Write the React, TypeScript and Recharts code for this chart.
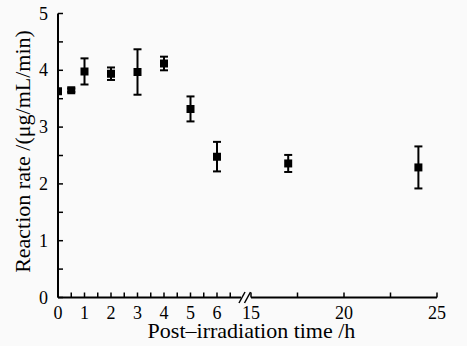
import { ErrorBar, Scatter, ScatterChart, XAxis, YAxis, ZAxis } from "recharts";

const earlyHours = [0, 0.5, 1, 2, 3, 4, 5, 6];
const earlyRates = [3.63, 3.65, 3.98, 3.94, 3.97, 4.12, 3.32, 2.48];
const earlyErrors = [0, 0.03, 0.23, 0.11, 0.4, 0.12, 0.22, 0.26];

const lateHours = [17, 24];
const lateRates = [2.36, 2.29];
const lateErrors = [0.15, 0.37];

const earlyTicks = [0, 0.5, 1, 1.5, 2, 2.5, 3, 3.5, 4, 4.5, 5, 5.5, 6, 6.5];
const lateTicks = [15, 17.5, 20, 22.5, 25];
const rateTicks = [0, 0.5, 1, 1.5, 2, 2.5, 3, 3.5, 4, 4.5, 5];

const earlyData = earlyHours.map((h, i) => ({ h, rate: earlyRates[i], err: earlyErrors[i] }));
const lateData = lateHours.map((h, i) => ({ h, rate: lateRates[i], err: lateErrors[i] }));

const BG = "#fafafa";
const FONT = "Liberation Serif, Times New Roman, serif";
const axisLine = { stroke: "#000", strokeWidth: 2 };
const tickLine = { stroke: "#000", strokeWidth: 1.5 };
const intOnly = (v: number) => (Number.isInteger(v) ? String(v) : "");

const MARGIN_TOP = 13.5;
const MARGIN_BOTTOM = 18.5;
const XAXIS_H = 30;

// ticks drawn as plain svg text so the serif face sticks
function XTick(props: any) {
  const { x, y, payload } = props;
  return (
    <text x={x} y={y} dy="0.71em" textAnchor="middle" fontSize={18} fontFamily={FONT} fill="#000">
      {intOnly(payload.value)}
    </text>
  );
}

function YTick(props: any) {
  const { x, y, payload } = props;
  return (
    <text x={x} y={y} dy="0.34em" textAnchor="end" fontSize={18} fontFamily={FONT} fill="#000">
      {intOnly(payload.value)}
    </text>
  );
}

function YTitle(props: any) {
  const vb = props.viewBox || {};
  const cx = 30;
  const cy = (vb.y ?? 13.5) + (vb.height ?? 284) / 2 - 4;
  return (
    <text
      x={cx}
      y={cy}
      transform={`rotate(-90, ${cx}, ${cy})`}
      textAnchor="middle"
      fontSize={22}
      fontFamily={FONT}
      fill="#000"
    >
      Reaction rate /(μg/mL/min)
    </text>
  );
}

export default function App() {
  return (
    <div
      style={{
        position: "absolute",
        left: 0,
        top: 0,
        width: 467,
        height: 346,
        background: BG,
        fontFamily: FONT,
      }}
    >
      <div style={{ position: "absolute", left: 0, top: 0 }}>
        <ScatterChart
          width={250}
          height={346}
          margin={{ top: MARGIN_TOP, right: 6.5, bottom: MARGIN_BOTTOM, left: 0 }}
        >
          <XAxis
            type="number"
            dataKey="h"
            domain={[0, 7]}
            ticks={earlyTicks}
            interval={0}
            height={XAXIS_H}
            tickSize={-5}
            tickMargin={14}
            tick={XTick}
            axisLine={axisLine}
            tickLine={tickLine}
            allowDataOverflow
          />
          <YAxis
            type="number"
            dataKey="rate"
            domain={[0, 5]}
            ticks={rateTicks}
            interval={0}
            width={58}
            tickSize={-5}
            tickMargin={15}
            tick={YTick}
            axisLine={axisLine}
            tickLine={tickLine}
            label={YTitle}
          />
          <ZAxis range={[49, 49]} />
          <Scatter data={earlyData} fill="#000" shape="square" isAnimationActive={false}>
            <ErrorBar dataKey="err" direction="y" width={4} stroke="#000" strokeWidth={2} isAnimationActive={false} />
          </Scatter>
        </ScatterChart>
      </div>
      <div style={{ position: "absolute", left: 240, top: 0 }}>
        <ScatterChart
          width={227}
          height={346}
          margin={{ top: MARGIN_TOP, right: 30, bottom: MARGIN_BOTTOM, left: 11 }}
        >
          <XAxis
            type="number"
            dataKey="h"
            domain={[15, 25]}
            ticks={lateTicks}
            interval={0}
            height={XAXIS_H}
            tickSize={-5}
            tickMargin={14}
            tick={XTick}
            axisLine={axisLine}
            tickLine={tickLine}
          />
          <YAxis type="number" dataKey="rate" domain={[0, 5]} hide />
          <ZAxis range={[49, 49]} />
          <Scatter data={lateData} fill="#000" shape="square" isAnimationActive={false}>
            <ErrorBar dataKey="err" direction="y" width={4} stroke="#000" strokeWidth={2} isAnimationActive={false} />
          </Scatter>
        </ScatterChart>
      </div>
      <svg
        width={467}
        height={346}
        style={{ position: "absolute", left: 0, top: 0, pointerEvents: "none" }}
      >
        <rect x={241} y={294} width={9} height={7} fill={BG} />
        <line x1={239} y1={303} x2={245} y2={292} stroke="#000" strokeWidth={1.5} />
        <line x1={244.5} y1={303} x2={250.5} y2={292} stroke="#000" strokeWidth={1.5} />
        <text x={251.5} y={338} textAnchor="middle" fontSize={22} fontFamily={FONT} fill="#000">
          Post–irradiation time /h
        </text>
      </svg>
    </div>
  );
}
